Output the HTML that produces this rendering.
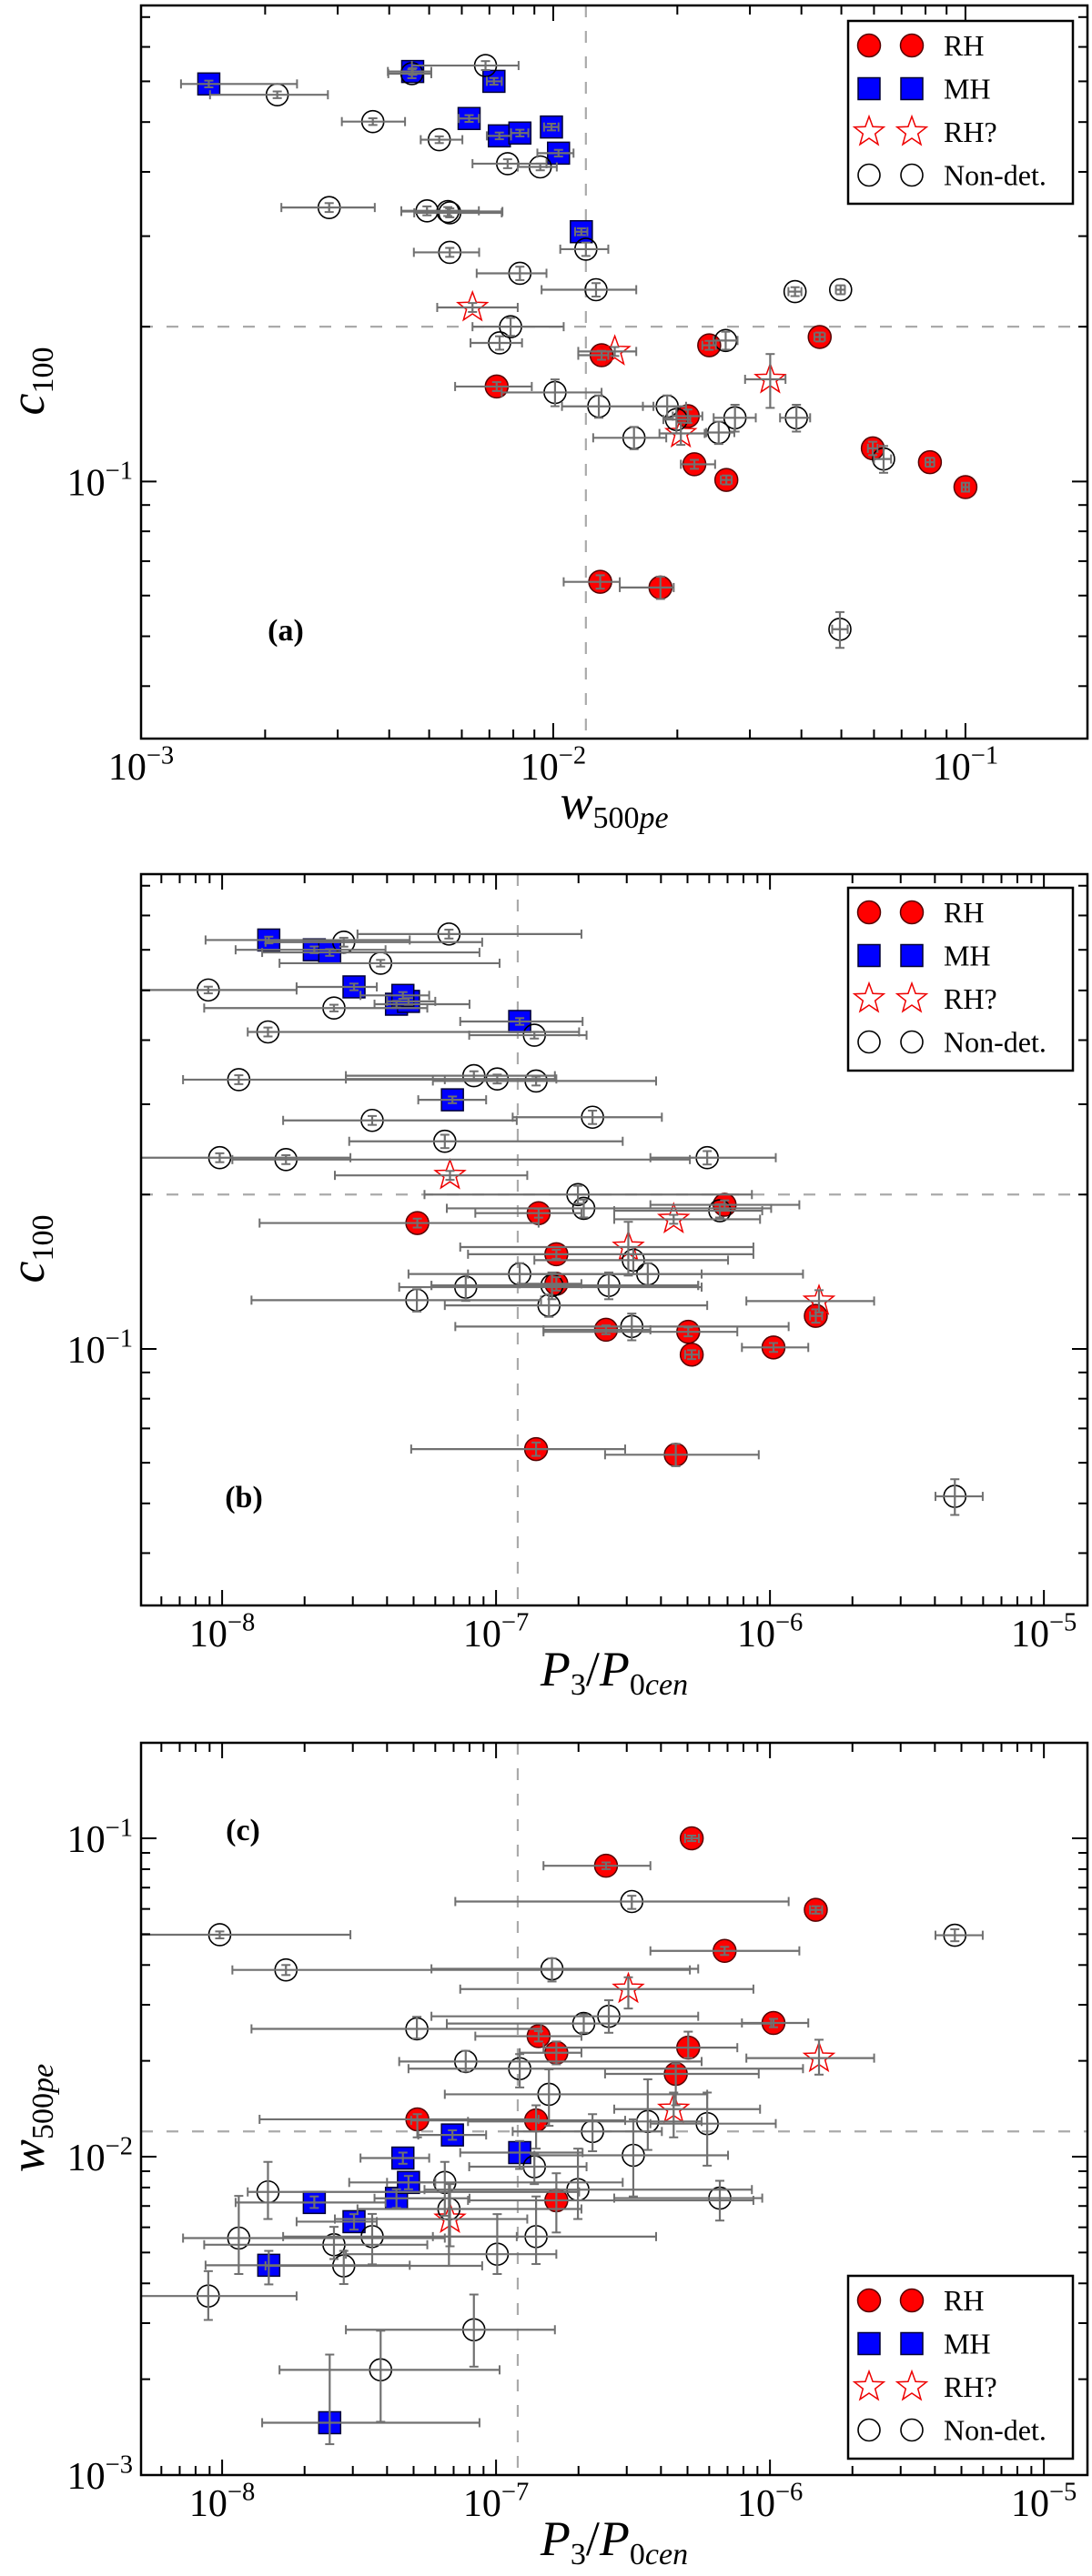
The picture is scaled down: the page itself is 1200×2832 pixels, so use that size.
<!DOCTYPE html>
<html><head><meta charset="utf-8"><title>c100 vs w500pe vs P3/P0cen</title>
<style>html,body{margin:0;padding:0;background:#fff;}svg{display:block;}</style></head>
<body>
<svg id="fig" xmlns="http://www.w3.org/2000/svg" width="1200" height="2832" viewBox="0 0 1200 2832"></svg>
<script>
// ---- RH (red circles) ----
const rhP=[1.66e-7,5.16e-8,1.43e-7,6.83e-7,1.66e-7,5.03e-7,1.03e-6,1.47e-6,2.52e-7,5.18e-7,1.40e-7,4.53e-7];
const rhPlo=[7.9e-8,1.37e-8,8.4e-8,3.66e-7,1.22e-7,1.49e-7,7.9e-7,1.40e-6,1.49e-7,4.9e-7,4.9e-8,2.5e-7];
const rhPhi=[8.7e-7,1.43e-7,2.05e-7,1.28e-6,2.05e-7,7.6e-7,1.38e-6,1.55e-6,3.66e-7,5.5e-7,2.96e-7,9.1e-7];
const rhW=[0.00729,0.0131,0.0239,0.0443,0.0212,0.0220,0.0263,0.0596,0.082,0.100,0.0130,0.0182];
const rhWlo=[0.00578,0.0115,0.0230,0.0430,0.0195,0.0204,0.0255,0.058,0.080,0.098,0.0106,0.0145];
const rhWhi=[0.00887,0.0136,0.0248,0.0456,0.0230,0.0247,0.0271,0.0612,0.084,0.102,0.0145,0.0196];
const rhC=[0.153,0.176,0.184,0.191,0.134,0.108,0.1007,0.116,0.109,0.0975,0.0638,0.0622];
const rhCerr=[0.02,0.02,0.02,0.02,0.03,0.02,0.02,0.03,0.02,0.02,0.03,0.05];
// ---- MH (blue squares) ----
const mhP=[1.48e-8,2.17e-8,2.47e-8,3.03e-8,4.33e-8,4.79e-8,4.57e-8,1.22e-7,6.93e-8];
const mhPlo=[8.7e-9,1.12e-8,1.40e-8,1.87e-8,3.6e-8,4.0e-8,3.2e-8,7.4e-8,5.2e-8];
const mhPhi=[4.84e-8,3.95e-8,8.7e-8,3.67e-8,8.0e-8,6.0e-8,5.7e-8,2.07e-7,9.2e-8];
const mhW=[0.00456,0.00718,0.00146,0.00625,0.0074,0.0083,0.0099,0.0103,0.0117];
const mhWlo=[0.00397,0.0069,0.00125,0.0059,0.0069,0.0079,0.0095,0.00915,0.0113];
const mhWhi=[0.00506,0.0075,0.00239,0.0066,0.0079,0.0087,0.0103,0.0112,0.0121];
const mhC=[0.627,0.600,0.593,0.508,0.470,0.476,0.489,0.435,0.306];
const mhCerr=[0.015,0.015,0.015,0.015,0.015,0.015,0.015,0.015,0.015];
// ---- RH? (red stars) ----
const stP=[6.79e-8,4.45e-7,3.04e-7,1.51e-6];
const stPlo=[2.58e-8,2.7e-7,7.4e-8,8.2e-7];
const stPhi=[1.30e-7,9.2e-7,8.7e-7,2.4e-6];
const stW=[0.00637,0.0141,0.0336,0.0204];
const stWlo=[0.00523,0.0115,0.0292,0.0181];
const stWhi=[0.00820,0.0159,0.0366,0.0233];
const stC=[0.218,0.179,0.158,0.124];
const stCerr=[0.02,0.02,0.12,0.05];
// ---- Non-detections (open circles) ----
const ndP=[6.73e-8,2.78e-8,3.79e-8,8.9e-9,2.56e-8,1.47e-8,1.38e-7,1.15e-8,8.3e-8,1.01e-7,1.40e-7,3.53e-8,2.25e-7,6.5e-8,9.8e-9,1.71e-8,5.9e-7,1.99e-7,2.09e-7,6.56e-7,3.17e-7,1.22e-7,7.75e-8,1.60e-7,2.58e-7,3.58e-7,5.14e-8,1.56e-7,3.13e-7,4.73e-6];
const ndPlo=[3.12e-8,1.44e-8,1.62e-8,4e-9,8.6e-9,1.24e-8,7.98e-8,7.2e-9,2.83e-8,2.83e-8,5.88e-8,1.67e-8,1.15e-7,2.91e-8,4e-9,1.09e-8,3.66e-7,5.48e-8,6.61e-8,2.70e-7,1.38e-7,4.79e-8,4.43e-8,5.81e-8,5.81e-8,7.9e-8,1.28e-8,6.5e-8,7.1e-8,4.02e-6];
const ndPhi=[2.05e-7,8.9e-8,1.03e-7,1.87e-8,5.61e-8,2.01e-7,2.14e-7,6.5e-8,1.64e-7,1.66e-7,3.84e-7,1.19e-7,4.03e-7,2.90e-7,2.94e-8,5.1e-7,1.05e-6,8.59e-7,1.01e-6,9.37e-7,7.03e-7,1.32e-6,5.63e-7,5.47e-7,5.47e-7,5.63e-7,1.46e-7,5.9e-7,1.17e-6,5.98e-6];
const ndW=[0.00685,0.00454,0.00214,0.00365,0.00529,0.00775,0.0093,0.00555,0.00286,0.00494,0.00561,0.00561,0.0120,0.0083,0.0498,0.0386,0.0127,0.00788,0.0262,0.00741,0.0101,0.0189,0.0199,0.0389,0.0276,0.0129,0.0252,0.0157,0.0633,0.0496];
const ndWlo=[0.00454,0.00398,0.00147,0.00307,0.00477,0.00637,0.0082,0.00428,0.00219,0.00428,0.0046,0.00459,0.0104,0.00652,0.0485,0.0372,0.00937,0.00637,0.0245,0.0063,0.0075,0.0165,0.0185,0.0355,0.0245,0.0105,0.0235,0.0125,0.060,0.0475];
const ndWhi=[0.00824,0.00506,0.00284,0.00437,0.00602,0.00963,0.0102,0.00753,0.00369,0.0066,0.0075,0.00661,0.0136,0.00963,0.051,0.040,0.0159,0.0106,0.028,0.0084,0.0131,0.021,0.0215,0.042,0.031,0.0175,0.0275,0.0188,0.066,0.0518];
const ndC=[0.644,0.621,0.565,0.501,0.462,0.415,0.409,0.335,0.341,0.336,0.333,0.279,0.283,0.254,0.236,0.234,0.236,0.200,0.188,0.186,0.149,0.140,0.132,0.133,0.133,0.140,0.1245,0.1216,0.1106,0.0516];
const ndCerr=[0.02,0.02,0.015,0.015,0.015,0.02,0.015,0.02,0.02,0.02,0.02,0.02,0.03,0.03,0.02,0.02,0.03,0.04,0.04,0.03,0.06,0.05,0.06,0.06,0.06,0.05,0.05,0.05,0.06,0.08];
// thresholds
const wCut=0.012, cCut=0.2, pCut=1.2e-7;
const legendLabels=['RH','MH','RH?','Non-det.'];

const NS='http://www.w3.org/2000/svg';
const svg=document.getElementById('fig');
function mk(tag,parent){const e=document.createElementNS(NS,tag);(parent||svg).appendChild(e);return e;}
const L=Math.log10;

const panels=[
 {id:'a',box:[155,6,1195,812],xd:[-3,-0.704],yd:[-1.5,-0.0743],xk:'w',yk:'c',legY:23,lab:[314,704]},
 {id:'b',box:[155,961,1195,1765],xd:[-8.296,-4.841],yd:[-1.5,-0.0743],xk:'p',yk:'c',legY:976,lab:[268,1657]},
 {id:'c',box:[155,1916,1195,2721],xd:[-8.296,-4.841],yd:[-3,-0.7],xk:'p',yk:'w',legY:2502,lab:[267,2023]}
];
const series=[
 {k:'rh',P:rhP,Plo:rhPlo,Phi:rhPhi,W:rhW,Wlo:rhWlo,Whi:rhWhi,C:rhC,Ce:rhCerr},
 {k:'mh',P:mhP,Plo:mhPlo,Phi:mhPhi,W:mhW,Wlo:mhWlo,Whi:mhWhi,C:mhC,Ce:mhCerr},
 {k:'st',P:stP,Plo:stPlo,Phi:stPhi,W:stW,Wlo:stWlo,Whi:stWhi,C:stC,Ce:stCerr},
 {k:'nd',P:ndP,Plo:ndPlo,Phi:ndPhi,W:ndW,Wlo:ndWlo,Whi:ndWhi,C:ndC,Ce:ndCerr}
];
function get(s,key,i){
 if(key==='p')return [s.P[i],s.Plo[i],s.Phi[i]];
 if(key==='w')return [s.W[i],s.Wlo[i],s.Whi[i]];
 return [s.C[i],s.C[i]*(1-s.Ce[i]),s.C[i]*(1+s.Ce[i])];
}
function starPts(cx,cy,R,r){let p=[];for(let k=0;k<10;k++){const a=-Math.PI/2+k*Math.PI/5;const rr=k%2?r:R;p.push((cx+rr*Math.cos(a)).toFixed(1)+','+(cy+rr*Math.sin(a)).toFixed(1));}return p.join(' ');}
function drawMarker(kind,x,y,g){
 let e;
 if(kind==='rh'){e=mk('circle',g);e.setAttribute('cx',x);e.setAttribute('cy',y);e.setAttribute('r',12.5);e.setAttribute('fill','#f00');e.setAttribute('stroke','#500');e.setAttribute('stroke-width',1.5);}
 else if(kind==='mh'){e=mk('rect',g);e.setAttribute('x',x-12);e.setAttribute('y',y-12);e.setAttribute('width',24);e.setAttribute('height',24);e.setAttribute('fill','#00f');e.setAttribute('stroke','#003');e.setAttribute('stroke-width',1.5);}
 else if(kind==='st'){e=mk('polygon',g);e.setAttribute('points',starPts(x,y,17,7));e.setAttribute('fill','none');e.setAttribute('stroke','#e00');e.setAttribute('stroke-width',1.5);}
 else {e=mk('circle',g);e.setAttribute('cx',x);e.setAttribute('cy',y);e.setAttribute('r',12);e.setAttribute('fill','none');e.setAttribute('stroke','#000');e.setAttribute('stroke-width',1.6);}
 return e;
}
function line(g,x1,y1,x2,y2,stroke,w){const e=mk('line',g);e.setAttribute('x1',x1);e.setAttribute('y1',y1);e.setAttribute('x2',x2);e.setAttribute('y2',y2);e.setAttribute('stroke',stroke);e.setAttribute('stroke-width',w);return e;}
function supText(g,x,y,anchor,exp,size){
 const t=mk('text',g);t.setAttribute('x',x);t.setAttribute('y',y);t.setAttribute('text-anchor',anchor);
 t.setAttribute('font-family','"Liberation Serif", serif');t.setAttribute('font-size',size);
 t.appendChild(document.createTextNode('10'));
 const s=mk('tspan',t);s.setAttribute('dy',-size*0.42);s.setAttribute('font-size',size*0.68);s.textContent='\u2212'+Math.abs(exp);
 return t;
}

panels.forEach(pn=>{
 const [x0,y0,x1,y1]=pn.box;
 const xs=v=>x0+(L(v)-pn.xd[0])/(pn.xd[1]-pn.xd[0])*(x1-x0);
 const ys=v=>y1-(L(v)-pn.yd[0])/(pn.yd[1]-pn.yd[0])*(y1-y0);
 const g=mk('g');
 const cp=mk('clipPath',g);cp.setAttribute('id','clip'+pn.id);
 const cr=mk('rect',cp);cr.setAttribute('x',x0);cr.setAttribute('y',y0);cr.setAttribute('width',x1-x0);cr.setAttribute('height',y1-y0);
 const plot=mk('g',g);plot.setAttribute('clip-path','url(#clip'+pn.id+')');
 
 
 // threshold lines
 const xc=pn.xk==='w'?wCut:pCut, yc=pn.yk==='c'?cCut:wCut;
 const vl=line(plot,xs(xc),y0,xs(xc),y1,'#aaa',2.2);vl.setAttribute('stroke-dasharray','13 15');
 
 
 const hl=line(plot,x0,ys(yc),x1,ys(yc),'#aaa',2.2);hl.setAttribute('stroke-dasharray','13 15');
 
 
 // markers
 series.forEach(s=>{
  const sg=mk('g',plot);
  
  
  for(let i=0;i<s.P.length;i++){
   const X=get(s,pn.xk,i),Y=get(s,pn.yk,i);
   const m=drawMarker(s.k,xs(X[0]),ys(Y[0]),sg);
   
   
  }
 });
 // error bars on top
 const eg=mk('g',plot);
 
 
 series.forEach(s=>{
  for(let i=0;i<s.P.length;i++){
   const X=get(s,pn.xk,i),Y=get(s,pn.yk,i);
   const cx=xs(X[0]),cy=ys(Y[0]);
   const a=xs(X[1]),b=xs(X[2]);
   line(eg,a,cy,b,cy,'#707070',2.2);
   line(eg,a,cy-5,a,cy+5,'#707070',2);line(eg,b,cy-5,b,cy+5,'#707070',2);
   const c=ys(Y[1]),d=ys(Y[2]);
   line(eg,cx,c,cx,d,'#707070',2.2);
   line(eg,cx-5,c,cx+5,c,'#707070',2);line(eg,cx-5,d,cx+5,d,'#707070',2);
  }
 });
 // frame
 const fr=mk('rect',g);fr.setAttribute('x',x0);fr.setAttribute('y',y0);fr.setAttribute('width',x1-x0);fr.setAttribute('height',y1-y0);
 fr.setAttribute('fill','none');fr.setAttribute('stroke','#000');fr.setAttribute('stroke-width',2.5);
 
 
 // ticks
 const tg=mk('g',g);
 
 
 for(let d=Math.floor(pn.xd[0]);d<=Math.ceil(pn.xd[1]);d++){
  for(let m=1;m<10;m++){
   const lv=d+L(m); if(lv<pn.xd[0]-1e-6||lv>pn.xd[1]+1e-6)continue;
   const x=xs(Math.pow(10,lv)),len=m===1?17:10;
   line(tg,x,y1,x,y1-len,'#000',2);line(tg,x,y0,x,y0+len,'#000',2);
   if(m===1){const t=supText(g,x,y1+45,'middle',d,42);
    
    }
  }
 }
 for(let d=Math.floor(pn.yd[0]);d<=Math.ceil(pn.yd[1]);d++){
  for(let m=1;m<10;m++){
   const lv=d+L(m); if(lv<pn.yd[0]-1e-6||lv>pn.yd[1]+1e-6)continue;
   const y=ys(Math.pow(10,lv)),len=m===1?17:10;
   line(tg,x0,y,x0+len,y,'#000',2);line(tg,x1,y,x1-len,y,'#000',2);
   if(m===1){const t=supText(g,146,y+15,'end',d,42);
    
    }
  }
 }
 // axis titles
 function title(isX,key){
  const t=mk('text',g);t.setAttribute('font-family','"Liberation Serif", serif');t.setAttribute('font-size',54);t.setAttribute('text-anchor','middle');
  const sub=(txt,it)=>{const s=mk('tspan',t);s.setAttribute('font-size',34);s.setAttribute('dy',10);if(it)s.setAttribute('font-style','italic');s.textContent=txt;return s;};
  const main=(txt,dy)=>{const s=mk('tspan',t);s.setAttribute('font-style','italic');if(dy)s.setAttribute('dy',dy);s.textContent=txt;return s;};
  if(key==='c'){main('c');sub('100',false);}
  else if(key==='w'){main('w');sub('500',false);const s=mk('tspan',t);s.setAttribute('font-size',34);s.setAttribute('font-style','italic');s.textContent='pe';}
  else {main('P');sub('3',false);const sl=mk('tspan',t);sl.setAttribute('dy',-10);sl.textContent='/';main('P');sub('0',false);const s=mk('tspan',t);s.setAttribute('font-size',34);s.setAttribute('font-style','italic');s.textContent='cen';}
  if(isX){t.setAttribute('x',675);t.setAttribute('y',y1+88);}
  else{const cy=(y0+y1)/2+10;t.setAttribute('transform','translate(48,'+cy+') rotate(-90)');t.setAttribute('x',0);t.setAttribute('y',0);}
  return t;
 }
 const xt=title(true,pn.xk);
 
 
 const yt=title(false,pn.yk);
 
 
 // panel label
 const pl=mk('text',g);pl.setAttribute('x',pn.lab[0]);pl.setAttribute('y',pn.lab[1]);pl.setAttribute('text-anchor','middle');
 pl.setAttribute('font-family','"Liberation Serif", serif');pl.setAttribute('font-size',34);pl.setAttribute('font-weight','bold');pl.textContent='('+pn.id+')';
 
 
 // legend
 const lg=mk('g',g);
 
 
 const lb=mk('rect',lg);lb.setAttribute('x',932);lb.setAttribute('y',pn.legY);lb.setAttribute('width',247);lb.setAttribute('height',201);
 lb.setAttribute('fill','#fff');lb.setAttribute('stroke','#000');lb.setAttribute('stroke-width',2.5);
 ['rh','mh','st','nd'].forEach((k,j)=>{
  const cy=pn.legY+27+j*47.5;
  const e=mk('g',lg);
  
  
  drawMarker(k,955,cy,e);drawMarker(k,1002,cy,e);
  const t=mk('text',e);t.setAttribute('x',1037);t.setAttribute('y',cy+11);t.setAttribute('font-family','"Liberation Serif", serif');t.setAttribute('font-size',32);t.textContent=legendLabels[j];
 });
});
</script>
</body></html>
